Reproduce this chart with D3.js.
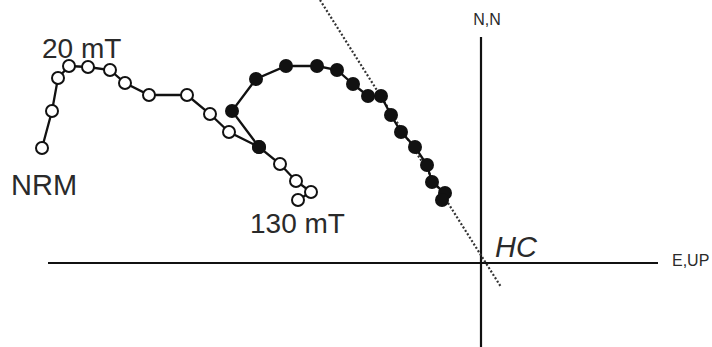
<!DOCTYPE html>
<html>
<head>
<meta charset="utf-8">
<script src="https://cdn.jsdelivr.net/npm/d3@7"></script>
<style>
  body { margin: 0; background: #fff; }
  svg { display: block; }
  text { font-family: "Liberation Sans", Arial, sans-serif; fill: #2a2a2a; }
</style>
</head>
<body>
<div id="zijderveld"></div>
<script>
const FRAME_WIDTH = 712;
const FRAME_HEIGHT = 347;

// vertical projection (E vs UP), open symbols, NRM -> 130 mT
const OPEN_E  = [-43.9, -42.9, -42.3, -41.2, -39.3, -37.1, -35.6, -33.2, -29.4, -27.1, -25.2, -22.2, -20.1, -18.5, -17.0, -18.3];
const OPEN_UP = [ 11.5,  15.2,  18.5,  19.7,  19.6,  19.3,  18.0,  16.8,  16.8,  14.9,  13.1,  11.6,   9.9,   8.2,   7.1,   6.3];

// horizontal projection (E vs N), filled symbols
const FILLED_E = [-22.2, -24.9, -22.5, -19.5, -16.4, -14.4, -12.8, -11.3, -10.0, -9.0, -8.0, -6.6, -5.4, -4.9, -3.6, -3.9];
const FILLED_N = [ 11.6,  15.2,  18.4,  19.7,  19.7,  19.3,  17.9,  16.7,  16.7, 14.8, 13.1, 11.6,  9.8,  8.1,  7.0,  6.3];

// HC fit line (two end points)
const FIT_E = [-16.1, 2.0];
const FIT_N = [26.3, -2.4];

// axis extents
const AXIS_E = [-43.3, 17.7];
const AXIS_N = [-8.4, 22.6];

const X_SCALE = d3.scaleLinear().domain([-48.1, 23.1]).range([0, FRAME_WIDTH]);
const Y_SCALE = d3.scaleLinear().domain([-8.4, 26.3]).range([FRAME_HEIGHT, 0]);

const svg = d3.select("#zijderveld")
  .append("svg")
    .attr("width", FRAME_WIDTH)
    .attr("height", FRAME_HEIGHT);

// axes
svg.append("line")
  .attr("x1", X_SCALE(AXIS_E[0])).attr("x2", X_SCALE(AXIS_E[1]))
  .attr("y1", Y_SCALE(0)).attr("y2", Y_SCALE(0))
  .attr("stroke", "#111").attr("stroke-width", 2.2);
svg.append("line")
  .attr("x1", X_SCALE(0)).attr("x2", X_SCALE(0))
  .attr("y1", Y_SCALE(AXIS_N[1])).attr("y2", Y_SCALE(AXIS_N[0]))
  .attr("stroke", "#111").attr("stroke-width", 2.2);

// dotted fit line
svg.append("line")
  .attr("x1", X_SCALE(FIT_E[0])).attr("y1", Y_SCALE(FIT_N[0]))
  .attr("x2", X_SCALE(FIT_E[1])).attr("y2", Y_SCALE(FIT_N[1]))
  .attr("stroke", "#333").attr("stroke-width", 2.2)
  .attr("stroke-dasharray", "2,2");

const line = d3.line()
  .x((d) => X_SCALE(d[0]))
  .y((d) => Y_SCALE(d[1]));

const openData = OPEN_E.map((e, i) => [e, OPEN_UP[i]]);
const filledData = FILLED_E.map((e, i) => [e, FILLED_N[i]]);

svg.append("path")
  .datum(openData)
  .attr("d", line)
  .attr("fill", "none").attr("stroke", "#111").attr("stroke-width", 2.3);

svg.selectAll(".open")
  .data(openData)
  .enter()
  .append("circle")
    .attr("class", "open")
    .attr("cx", (d) => X_SCALE(d[0]))
    .attr("cy", (d) => Y_SCALE(d[1]))
    .attr("r", 6)
    .attr("fill", "#fff").attr("stroke", "#111").attr("stroke-width", 2);

svg.append("path")
  .datum(filledData)
  .attr("d", line)
  .attr("fill", "none").attr("stroke", "#111").attr("stroke-width", 2.3);

svg.selectAll(".filled")
  .data(filledData)
  .enter()
  .append("circle")
    .attr("class", "filled")
    .attr("cx", (d) => X_SCALE(d[0]))
    .attr("cy", (d) => Y_SCALE(d[1]))
    .attr("r", 7)
    .attr("fill", "#111");

// labels
svg.append("text").attr("x", 42).attr("y", 58).attr("font-size", 28).text("20 mT");
svg.append("text").attr("x", 11).attr("y", 195).attr("font-size", 29).text("NRM");
svg.append("text").attr("x", 250).attr("y", 233).attr("font-size", 28).text("130 mT");
svg.append("text").attr("x", 495).attr("y", 257).attr("font-size", 29)
  .attr("font-style", "italic").text("HC");
svg.append("text").attr("x", X_SCALE(0) + 6).attr("y", 25).attr("font-size", 16)
  .attr("text-anchor", "middle").text("N,N");
svg.append("text").attr("x", 672).attr("y", 266).attr("font-size", 16).text("E,UP");
</script>
</body>
</html>
